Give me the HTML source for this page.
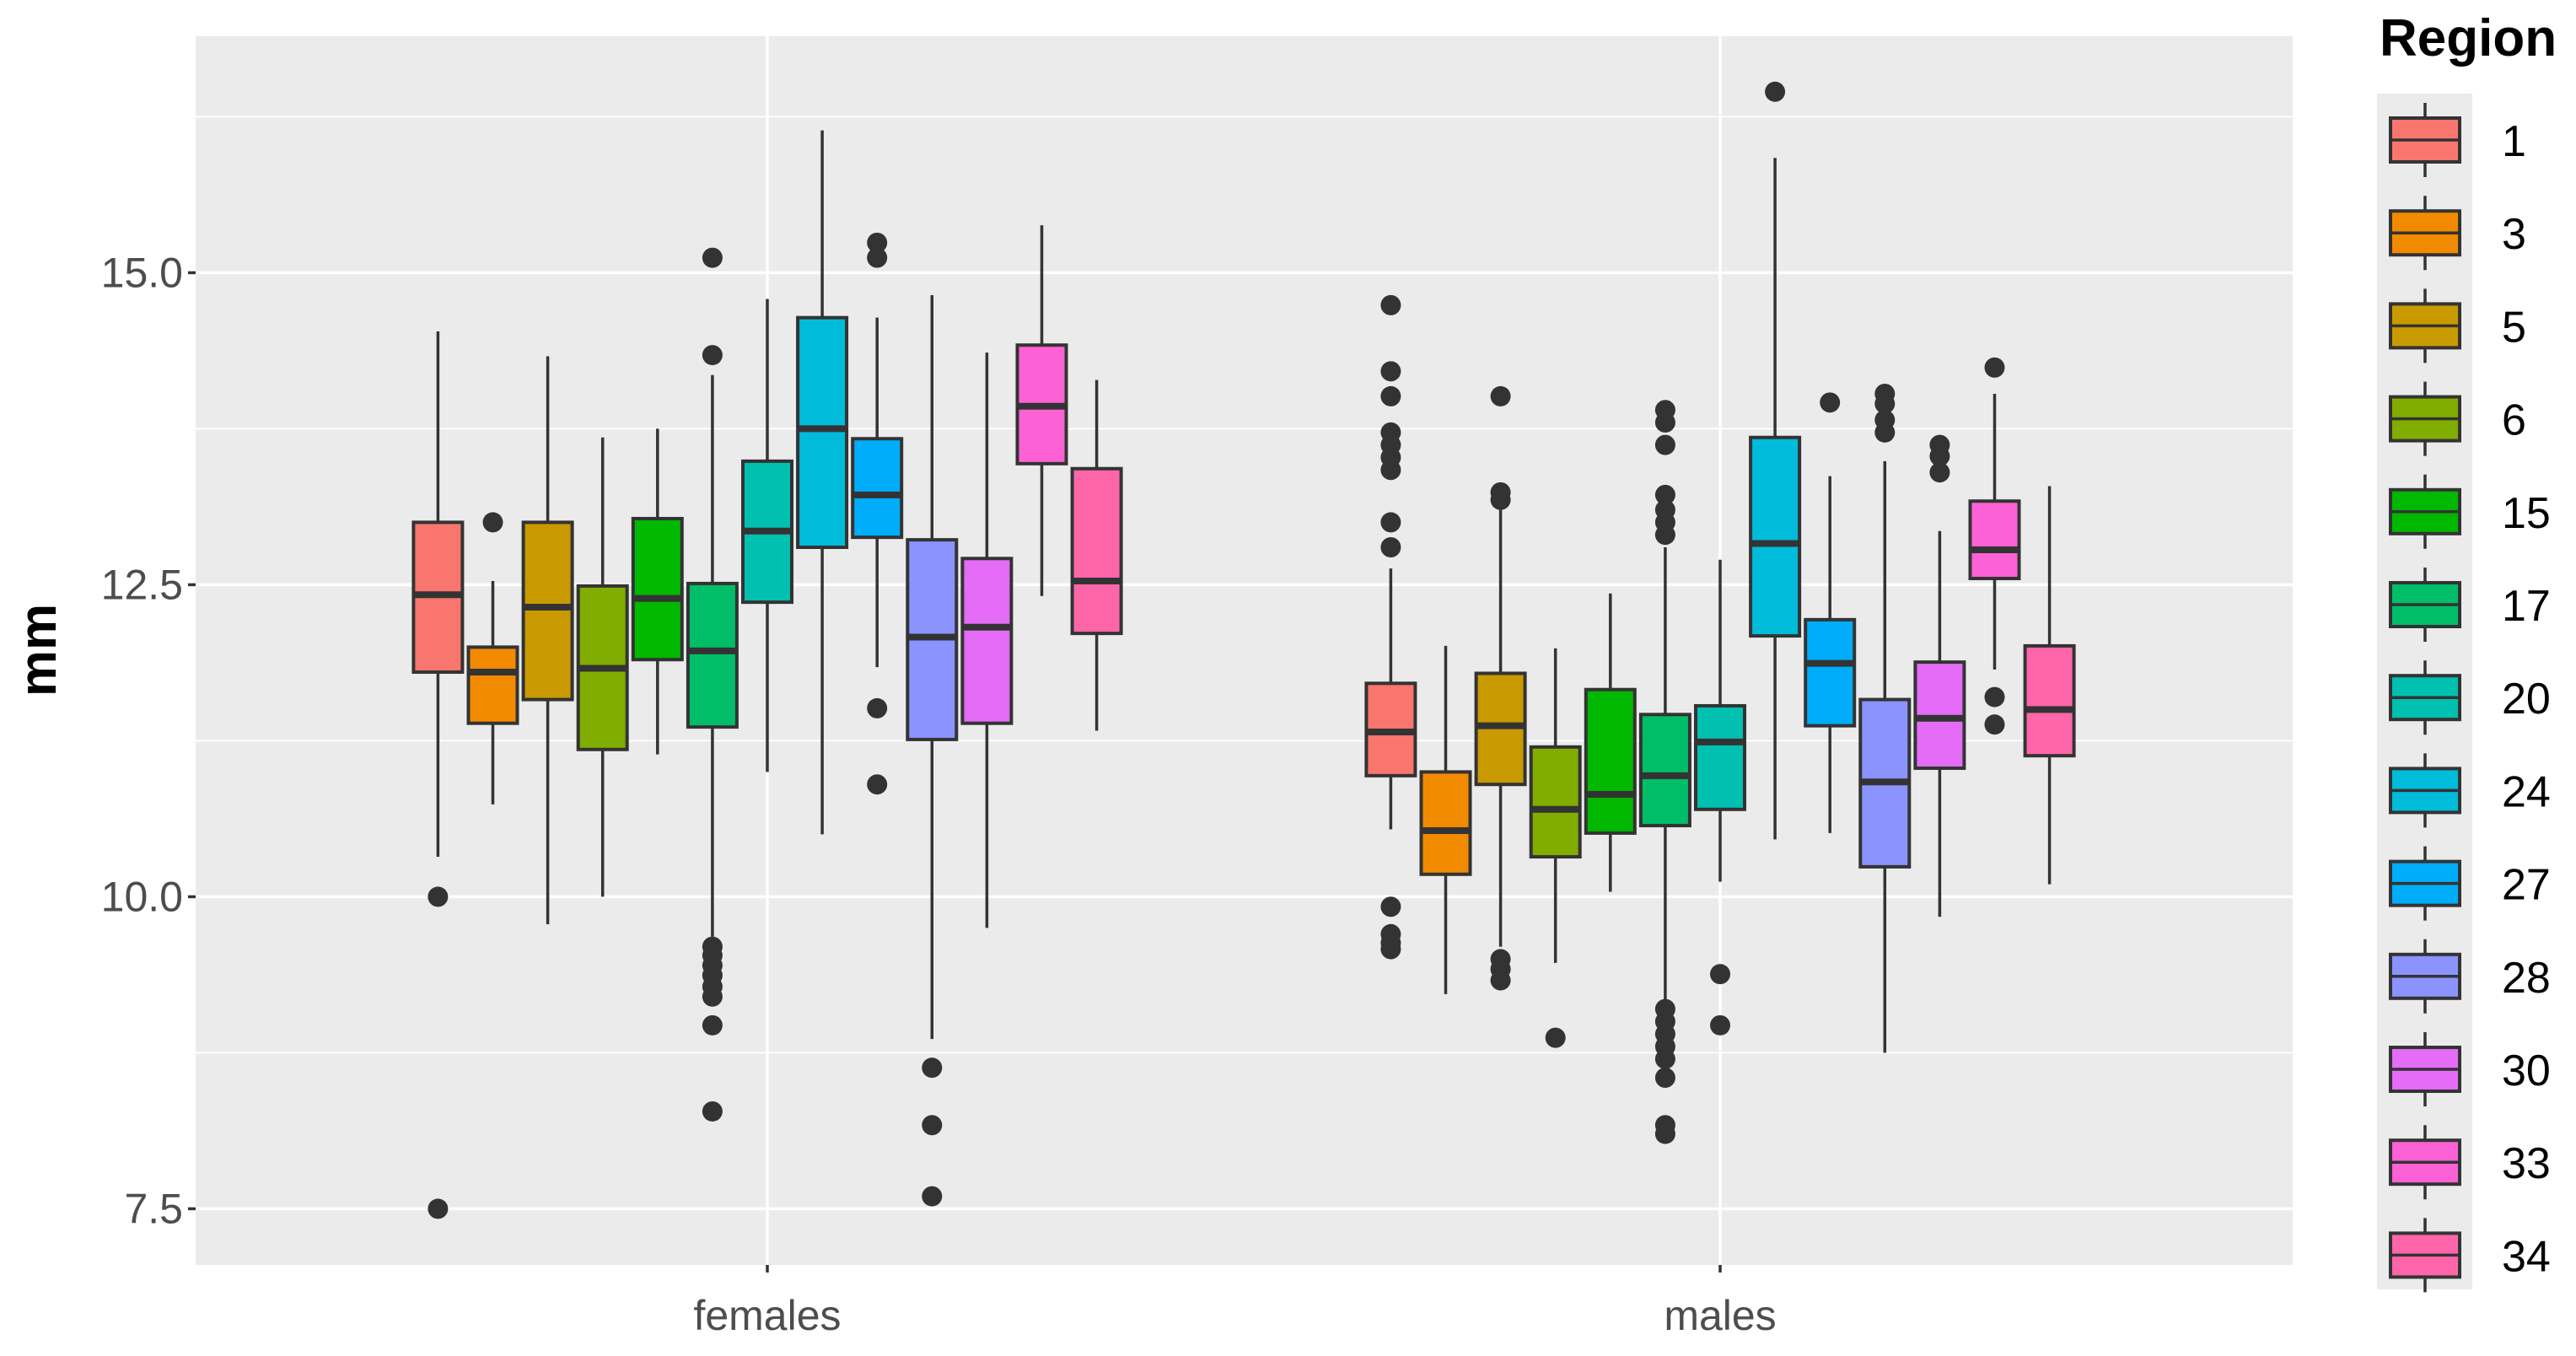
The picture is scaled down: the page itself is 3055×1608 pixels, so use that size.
<!DOCTYPE html>
<html><head><meta charset="utf-8"><style>
html,body{margin:0;padding:0;background:#fff;}
svg{display:block;font-family:"Liberation Sans",Arial,sans-serif;}
</style></head><body>
<svg id="chart" width="3055" height="1608" viewBox="0 0 3055 1608" xmlns="http://www.w3.org/2000/svg"></svg>
<script>
const regions=["1","3","5","6","15","17","20","24","27","28","30","33","34"];
const colors=["#F8766D","#F28A00","#C99A00","#80AD00","#00B800","#00BE68","#00C0AF","#00BCDA","#00ADFA","#8B93FF","#E46CF6","#FC61D5","#FF66AA"];
const groups=["females","males"];
const yTicks=[7.5,10.0,12.5,15.0];
// each stat: [lowWhisker, q1, median, q3, highWhisker]
const femalesStats=[
[10.32,11.8,12.42,13.0,14.53],[10.74,11.39,11.8,12.0,12.53],[9.78,11.58,12.32,13.0,14.33],
[10.0,11.18,11.83,12.49,13.68],[11.14,11.9,12.39,13.03,13.75],[9.68,11.36,11.97,12.51,14.18],
[11.0,12.36,12.93,13.49,14.79],[10.5,12.8,13.75,14.64,16.14],[11.84,12.88,13.22,13.67,14.64],
[8.86,11.26,12.08,12.86,14.82],[9.75,11.39,12.16,12.71,14.36],[12.41,13.47,13.93,14.42,15.38],
[11.33,12.11,12.53,13.43,14.14]];
const malesStats=[
[10.54,10.97,11.32,11.71,12.63],[9.22,10.18,10.53,11.0,12.01],[9.6,10.9,11.37,11.79,13.1],
[9.47,10.32,10.7,11.2,11.99],[10.04,10.51,10.82,11.66,12.43],[8.95,10.57,10.97,11.46,12.8],
[10.12,10.7,11.24,11.53,12.7],[10.46,12.09,12.83,13.68,15.92],[10.51,11.37,11.87,12.22,13.37],
[8.75,10.24,10.92,11.58,13.49],[9.84,11.03,11.43,11.88,12.93],[11.82,12.55,12.78,13.17,14.03],
[10.1,11.13,11.5,12.01,13.29]];
const femalesOutliers=[[10.0,7.5],[13.0],[],[],[],[15.12,14.34,9.6,9.53,9.45,9.37,9.28,9.2,8.97,8.28],[],[],[15.24,15.12,11.51,10.9],[8.63,8.17,7.6],[],[],[]];
const malesOutliers=[[14.74,14.21,14.01,13.72,13.62,13.52,13.42,13.0,12.8,9.92,9.7,9.63,9.58],[],[14.01,13.24,13.18,9.5,9.42,9.33],[8.87],[],
[13.9,13.8,13.62,13.22,13.1,13.0,12.9,9.1,9.0,8.9,8.8,8.7,8.55,8.17,8.1],[9.38,8.97],[16.45],[13.96],[14.03,13.95,13.82,13.72],[13.62,13.53,13.4],[14.24,11.6,11.38],[]];

const NS="http://www.w3.org/2000/svg";
const svg=document.getElementById('chart');
function mk(tag,attrs,parent){const e=document.createElementNS(NS,tag);for(const k in attrs)e.setAttribute(k,attrs[k]);(parent||svg).appendChild(e);return e;}
const P={l:232,r:2719,t:43,b:1500};
function y(v){return 323.4+(15-v)*148.0;}
const gx=[910,2040];
const dodge=65.1, bw=58;
function bx(g,i){return gx[g]+(i-6)*dodge;}

const panel=mk('rect',{x:P.l,y:P.t,width:P.r-P.l,height:P.b-P.t,fill:'#EBEBEB'});


[8.75,11.25,13.75,16.25].forEach(v=>{const l=mk('line',{x1:P.l,x2:P.r,y1:y(v),y2:y(v),stroke:'#fff','stroke-width':1.8});

});
yTicks.forEach(v=>{const l=mk('line',{x1:P.l,x2:P.r,y1:y(v),y2:y(v),stroke:'#fff','stroke-width':3.5});


const t=mk('line',{x1:P.l-9,x2:P.l,y1:y(v),y2:y(v),stroke:'#333','stroke-width':3.5});


const tx=mk('text',{x:P.l-15,y:y(v)+17,'text-anchor':'end','font-size':50,fill:'#4D4D4D'});tx.textContent=v.toFixed(1);

});
groups.forEach((g,gi)=>{const l=mk('line',{x1:gx[gi],x2:gx[gi],y1:P.t,y2:P.b,stroke:'#fff','stroke-width':3.5});


const t=mk('line',{x1:gx[gi],x2:gx[gi],y1:P.b,y2:P.b+9,stroke:'#333','stroke-width':3.5});


const tx=mk('text',{x:gx[gi],y:1577,'text-anchor':'middle','font-size':50,fill:'#4D4D4D'});tx.textContent=g;

});

[femalesStats,malesStats].forEach((stats,gi)=>{
 const outs=gi?malesOutliers:femalesOutliers;
 stats.forEach((s,i)=>{
  const cx=bx(gi,i);
  const grp=mk('g',{});
  
  
  mk('line',{x1:cx,x2:cx,y1:y(s[4]),y2:y(s[3]),stroke:'#333','stroke-width':3.5},grp);
  mk('line',{x1:cx,x2:cx,y1:y(s[1]),y2:y(s[0]),stroke:'#333','stroke-width':3.5},grp);
  mk('rect',{x:cx-bw/2,y:y(s[3]),width:bw,height:y(s[1])-y(s[3]),fill:colors[i],stroke:'#333','stroke-width':4},grp);
  mk('line',{x1:cx-bw/2,x2:cx+bw/2,y1:y(s[2]),y2:y(s[2]),stroke:'#333','stroke-width':8},grp);
  outs[i].forEach(o=>{const c=mk('circle',{cx:cx,cy:y(o),r:12,fill:'#333'},grp);
  
  });
 });
});

const yt=mk('text',{x:0,y:0,transform:'translate(66,771) rotate(-90)','text-anchor':'middle','font-size':62,fill:'#000','font-weight':'bold'});yt.textContent='mm';



const lt=mk('text',{x:2822,y:66,'font-size':62,fill:'#000','font-weight':'bold'});lt.textContent='Region';


const lb=mk('rect',{x:2819,y:111,width:113,height:1418,fill:'#EBEBEB'});


regions.forEach((r,i)=>{
 const cy=166+i*110.2;
 const g=mk('g',{});
 
 
 mk('line',{x1:2876,x2:2876,y1:cy-44,y2:cy+44,stroke:'#333','stroke-width':3.5},g);
 mk('rect',{x:2835,y:cy-26,width:82,height:52,fill:colors[i],stroke:'#333','stroke-width':4},g);
 mk('line',{x1:2835,x2:2917,y1:cy,y2:cy,stroke:'#333','stroke-width':3.5},g);
 const t=mk('text',{x:2967,y:cy+19,'font-size':52,fill:'#000'},g);t.textContent=r;
});
</script>
</body></html>
